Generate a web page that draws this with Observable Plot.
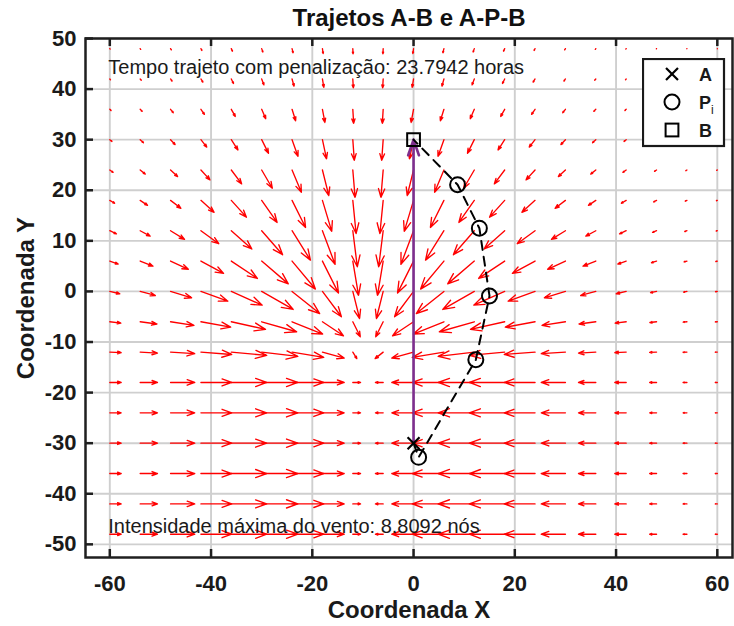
<!DOCTYPE html>
<html><head><meta charset="utf-8">
<script src="https://cdn.jsdelivr.net/npm/d3@7"></script>
<script src="https://cdn.jsdelivr.net/npm/@observablehq/plot@0.6"></script>
<style>
body{margin:0;background:#fff;}
#wrap{position:relative;width:734px;height:626px;overflow:hidden;background:#fff;}
#legend{position:absolute;left:642px;top:58px;}
</style></head>
<body><div id="wrap"></div>
<script>
// ---- data ----
const xGrid = [-60,-54,-48,-42,-36,-30,-24,-18,-12,-6,0,6,12,18,24,30,36,42,48,54,60];
const yGrid = [48,42,36,30,24,18,12,6,0,-6,-12,-18,-24,-30,-36,-42,-48];
const xTicks = [-60,-40,-20,0,20,40,60];
const yTicks = [-50,-40,-30,-20,-10,0,10,20,30,40,50];

// wind components (u east, v north) at each grid point, one row per yGrid value
const windU = [
 [0.08,0.11,0.16,0.20,0.23,0.24,0.21,0.14,0.05,-0.05,-0.14,-0.21,-0.24,-0.23,-0.20,-0.16,-0.11,-0.08,-0.05,-0.03,-0.01],
 [0.14,0.22,0.30,0.39,0.44,0.45,0.40,0.27,0.10,-0.10,-0.27,-0.40,-0.45,-0.44,-0.39,-0.30,-0.22,-0.14,-0.09,-0.05,-0.03],
 [0.26,0.39,0.54,0.69,0.79,0.81,0.71,0.49,0.17,-0.17,-0.49,-0.71,-0.81,-0.79,-0.69,-0.54,-0.39,-0.26,-0.15,-0.09,-0.05],
 [0.43,0.65,0.90,1.15,1.32,1.35,1.18,0.81,0.29,-0.29,-0.81,-1.18,-1.35,-1.32,-1.15,-0.90,-0.65,-0.43,-0.26,-0.14,-0.08],
 [0.66,1.01,1.40,1.79,2.05,2.10,1.84,1.26,0.45,-0.45,-1.26,-1.84,-2.10,-2.05,-1.79,-1.40,-1.01,-0.66,-0.40,-0.22,-0.12],
 [0.96,1.46,2.04,2.60,2.99,3.05,2.67,1.84,0.65,-0.65,-1.84,-2.67,-3.05,-2.99,-2.60,-2.04,-1.46,-0.96,-0.58,-0.33,-0.17],
 [1.31,1.98,2.77,3.53,4.06,4.14,3.63,2.50,0.89,-0.89,-2.50,-3.63,-4.14,-4.06,-3.53,-2.77,-1.98,-1.31,-0.79,-0.44,-0.23],
 [1.66,2.52,3.52,4.48,5.15,5.26,4.61,3.17,1.13,-1.13,-3.17,-4.61,-5.26,-5.15,-4.48,-3.52,-2.52,-1.66,-1.00,-0.56,-0.29],
 [1.96,2.99,4.17,5.31,6.10,6.23,5.46,3.75,1.34,-1.34,-3.75,-5.46,-6.23,-6.10,-5.31,-4.17,-2.99,-1.96,-1.19,-0.66,-0.35],
 [2.18,3.31,4.62,5.88,6.76,6.90,6.05,4.16,1.48,-1.48,-4.16,-6.05,-6.90,-6.76,-5.88,-4.62,-3.31,-2.18,-1.32,-0.74,-0.39],
 [2.25,3.42,4.78,6.08,6.99,7.14,6.26,4.30,0.80,-1.60,-4.30,-6.26,-7.14,-6.99,-6.08,-4.78,-3.42,-2.25,-1.36,-0.76,-0.40],
 [2.25,3.42,4.78,6.08,6.99,7.14,6.26,4.30,1.53,-1.53,-4.30,-6.26,-7.14,-6.99,-6.08,-4.78,-3.42,-2.25,-1.36,-0.76,-0.40],
 [2.25,3.42,4.78,6.08,6.99,7.14,6.26,4.30,1.53,-1.53,-4.30,-6.26,-7.14,-6.99,-6.08,-4.78,-3.42,-2.25,-1.36,-0.76,-0.40],
 [2.25,3.42,4.78,6.08,6.99,7.14,6.26,4.30,1.53,-1.53,-4.30,-6.26,-7.14,-6.99,-6.08,-4.78,-3.42,-2.25,-1.36,-0.76,-0.40],
 [2.25,3.42,4.78,6.08,6.99,7.14,6.26,4.30,1.53,-1.53,-4.30,-6.26,-7.14,-6.99,-6.08,-4.78,-3.42,-2.25,-1.36,-0.76,-0.40],
 [2.25,3.42,4.78,6.08,6.99,7.14,6.26,4.30,1.53,-1.53,-4.30,-6.26,-7.14,-6.99,-6.08,-4.78,-3.42,-2.25,-1.36,-0.76,-0.40],
 [2.25,3.42,4.78,6.08,6.99,7.14,6.26,4.30,1.53,-1.53,-4.30,-6.26,-7.14,-6.99,-6.08,-4.78,-3.42,-2.25,-1.36,-0.76,-0.40]
];
const windV = [
 [-0.09,-0.15,-0.25,-0.37,-0.52,-0.68,-0.83,-0.96,-1.02,-1.02,-0.96,-0.83,-0.68,-0.52,-0.37,-0.25,-0.15,-0.09,-0.05,-0.02,-0.01],
 [-0.15,-0.26,-0.42,-0.63,-0.89,-1.17,-1.43,-1.64,-1.75,-1.75,-1.64,-1.43,-1.17,-0.89,-0.63,-0.42,-0.26,-0.15,-0.08,-0.04,-0.02],
 [-0.24,-0.41,-0.67,-1.00,-1.41,-1.85,-2.27,-2.60,-2.78,-2.78,-2.60,-2.27,-1.85,-1.41,-1.00,-0.67,-0.41,-0.24,-0.13,-0.07,-0.03],
 [-0.35,-0.60,-0.97,-1.46,-2.05,-2.70,-3.31,-3.79,-4.06,-4.06,-3.79,-3.31,-2.70,-2.05,-1.46,-0.97,-0.60,-0.35,-0.19,-0.10,-0.05],
 [-0.47,-0.81,-1.30,-1.95,-2.74,-3.60,-4.41,-5.06,-5.41,-5.41,-5.06,-4.41,-3.60,-2.74,-1.95,-1.30,-0.81,-0.47,-0.25,-0.13,-0.06],
 [-0.57,-0.98,-1.57,-2.36,-3.32,-4.36,-5.35,-6.12,-6.56,-6.56,-6.12,-5.35,-4.36,-3.32,-2.36,-1.57,-0.98,-0.57,-0.31,-0.16,-0.07],
 [-0.62,-1.06,-1.71,-2.57,-3.61,-4.74,-5.81,-6.66,-7.12,-7.12,-6.66,-5.81,-4.74,-3.61,-2.57,-1.71,-1.06,-0.62,-0.33,-0.17,-0.08],
 [-0.59,-1.01,-1.62,-2.44,-3.43,-4.51,-5.53,-6.33,-6.78,-6.78,-6.33,-5.53,-4.51,-3.43,-2.44,-1.62,-1.01,-0.59,-0.32,-0.16,-0.08],
 [-0.46,-0.80,-1.28,-1.93,-2.71,-3.56,-4.37,-5.01,-5.36,-5.36,-5.01,-4.37,-3.56,-2.71,-1.93,-1.28,-0.80,-0.46,-0.25,-0.13,-0.06],
 [-0.26,-0.44,-0.71,-1.07,-1.50,-1.97,-2.42,-2.77,-2.97,-2.97,-2.77,-2.42,-1.97,-1.50,-1.07,-0.71,-0.44,-0.26,-0.14,-0.07,-0.03],
 [-0.11,-0.19,-0.31,-0.46,-0.65,-0.85,-1.04,-1.19,-1.28,-1.28,-1.19,-1.04,-0.85,-0.65,-0.46,-0.31,-0.19,-0.11,-0.06,-0.03,-0.01],
 [0,0,0,0,0,0,0,0,0,0,0,0,0,0,0,0,0,0,0,0,0],
 [0,0,0,0,0,0,0,0,0,0,0,0,0,0,0,0,0,0,0,0,0],
 [0,0,0,0,0,0,0,0,0,0,0,0,0,0,0,0,0,0,0,0,0],
 [0,0,0,0,0,0,0,0,0,0,0,0,0,0,0,0,0,0,0,0,0],
 [0,0,0,0,0,0,0,0,0,0,0,0,0,0,0,0,0,0,0,0,0],
 [0,0,0,0,0,0,0,0,0,0,0,0,0,0,0,0,0,0,0,0,0]
];

const pointA = [0, -30];
const pointB = [0, 30];
const pathPX = [1.0, 12.3, 15.0, 13.0, 8.7];
const pathPY = [-32.8, -13.5, -0.9, 12.5, 21.1];

const titleText = "Trajetos A-B e A-P-B";
const xLabel = "Coordenada X";
const yLabel = "Coordenada Y";
const noteTexts = ["Tempo trajeto com penalização: 23.7942 horas", "Intensidade máxima do vento: 8.8092 nós"];
const noteX = [-60.3, -60.3];
const noteY = [44.2, -46.5];
const legendLabels = ["A", "P", "B"];

// ---- build tables ----
const field = [];
yGrid.forEach((y, j) => xGrid.forEach((x, i) => field.push({x, y, u: windU[j][i], v: windV[j][i]})));
const route = [{x: pointA[0], y: pointA[1]}]
  .concat(pathPX.map((x, i) => ({x, y: pathPY[i]})))
  .concat([{x: pointB[0], y: pointB[1]}]);
const pts = pathPX.map((x, i) => ({x, y: pathPY[i]}));
const notes = noteTexts.map((t, i) => ({t, x: noteX[i], y: noteY[i]}));

const mL = 85, mR = 2, mT = 38, mB = 69, W = 734, H = 626;
const innerW = W - mL - mR, innerH = H - mT - mB;
const axisColor = "#1f1f1f";
const sans = "'Liberation Sans',Arial,sans-serif";

const chart = Plot.plot({
  width: W, height: H,
  marginLeft: mL, marginRight: mR, marginTop: mT, marginBottom: mB,
  x: {domain: [-64.8, 63], axis: null},
  y: {domain: [-52.6, 50], axis: null},
  style: {fontFamily: sans, background: "white", overflow: "visible"},
  marks: [
    Plot.ruleX(xTicks, {x: d => d, stroke: "#cfcfcf", strokeWidth: 1.9}),
    Plot.ruleY(yTicks, {y: d => d, stroke: "#cfcfcf", strokeWidth: 1.9}),
    Plot.arrow(field, {
      x1: "x", y1: "y", x2: d => d.x + d.u, y2: d => d.y + d.v,
      stroke: "#ff0000", strokeWidth: 1.35, headAngle: 40, headLength: 60
    }),
    Plot.arrow([{a: pointA, b: pointB}], {
      x1: d => d.a[0], y1: d => d.a[1], x2: d => d.b[0], y2: d => d.b[1],
      stroke: "#7e2f8e", strokeWidth: 2.6, headAngle: 38, headLength: 9.5
    }),
    Plot.line(route, {x: "x", y: "y", stroke: "black", strokeWidth: 2, strokeDasharray: "9,7"}),
    Plot.dot(pts, {x: "x", y: "y", symbol: "circle", r: 7.5, stroke: "black", strokeWidth: 2, fill: "none"}),
    Plot.dot([pointA], {x: d => d[0], y: d => d[1], symbol: "times", r: 5.5, stroke: "black", strokeWidth: 2.2}),
    Plot.dot([pointB], {x: d => d[0], y: d => d[1], symbol: "square", r: 7.2, stroke: "black", strokeWidth: 2, fill: "none"}),
    Plot.text(notes, {x: "x", y: "y", text: "t", textAnchor: "start", lineAnchor: "middle", fontSize: 20, fill: "#1a1a1a"}),
    Plot.frame({stroke: axisColor, strokeWidth: 2.5}),
    Plot.tickX(xTicks, {x: d => d, insetTop: innerH - 8, stroke: axisColor, strokeWidth: 2.5}),
    Plot.tickX(xTicks, {x: d => d, insetBottom: innerH - 8, stroke: axisColor, strokeWidth: 2.5}),
    Plot.tickY(yTicks, {y: d => d, insetRight: innerW - 8, stroke: axisColor, strokeWidth: 2.5}),
    Plot.text(xTicks, {x: d => d, text: d => String(d), frameAnchor: "bottom", textAnchor: "middle", lineAnchor: "top", dy: 18,
      fontSize: 22, fontWeight: "bold", fill: "#1a1a1a", ariaLabel: "x-tick-labels"}),
    Plot.text(yTicks, {y: d => d, text: d => String(d), frameAnchor: "left", textAnchor: "end", lineAnchor: "middle", dx: -9,
      fontSize: 22, fontWeight: "bold", fill: "#1a1a1a", ariaLabel: "y-tick-labels"}),
    Plot.text([titleText], {text: d => d, frameAnchor: "top", textAnchor: "middle", lineAnchor: "middle", dy: -20.5,
      fontSize: 24, fontWeight: "bold", fill: "#111"}),
    Plot.text([xLabel], {text: d => d, frameAnchor: "bottom", textAnchor: "middle", lineAnchor: "middle", dy: 53,
      fontSize: 24, fontWeight: "bold", fill: "#1a1a1a"}),
    Plot.text([yLabel], {text: d => d, frameAnchor: "left", textAnchor: "middle", lineAnchor: "middle", dx: -59, rotate: -90,
      fontSize: 24, fontWeight: "bold", fill: "#1a1a1a"})
  ]
});
// condensed look of the tick labels (narrow face is not installed)
d3.select(chart).selectAll('g[aria-label="x-tick-labels"] text, g[aria-label="y-tick-labels"] text')
  .each(function() {
    const t = this.getAttribute("transform");
    if (t) this.setAttribute("transform", t + " scale(0.86,1)");
  });

const wrap = document.getElementById("wrap");
chart.style.position = "absolute";
chart.style.left = "0px";
chart.style.top = "0px";
wrap.appendChild(chart);

// legend box (inside the axes, north-east)
const lg = d3.select(wrap).append("svg").attr("id", "legend").attr("width", 84).attr("height", 90);
lg.append("rect").attr("x", 1).attr("y", 1).attr("width", 81).attr("height", 87)
  .attr("fill", "white").attr("stroke", "#1a1a1a").attr("stroke-width", 2.2);
const rowsY = [16, 44, 72];
const mx = 30;
lg.append("path").attr("d", d3.symbol(d3.symbolTimes, Math.PI * 5.5 * 5.5)())
  .attr("transform", `translate(${mx},${rowsY[0]})`).attr("stroke", "black").attr("stroke-width", 2.2).attr("fill", "none");
lg.append("circle").attr("cx", mx).attr("cy", rowsY[1]).attr("r", 7.5).attr("stroke", "black").attr("stroke-width", 2).attr("fill", "none");
lg.append("rect").attr("x", mx - 6.4).attr("y", rowsY[2] - 6.4).attr("width", 12.8).attr("height", 12.8)
  .attr("stroke", "black").attr("stroke-width", 2).attr("fill", "none");
legendLabels.forEach((t, i) => {
  const tx = lg.append("text").attr("x", 57).attr("y", rowsY[i] + 6.5)
    .attr("font-family", sans).attr("font-size", 18).attr("font-weight", "bold").attr("fill", "#1a1a1a").text(t);
  if (t === "P") tx.append("tspan").attr("font-size", 12).attr("font-weight", "normal").attr("dy", 5).text("i");
});
</script>
</body></html>
